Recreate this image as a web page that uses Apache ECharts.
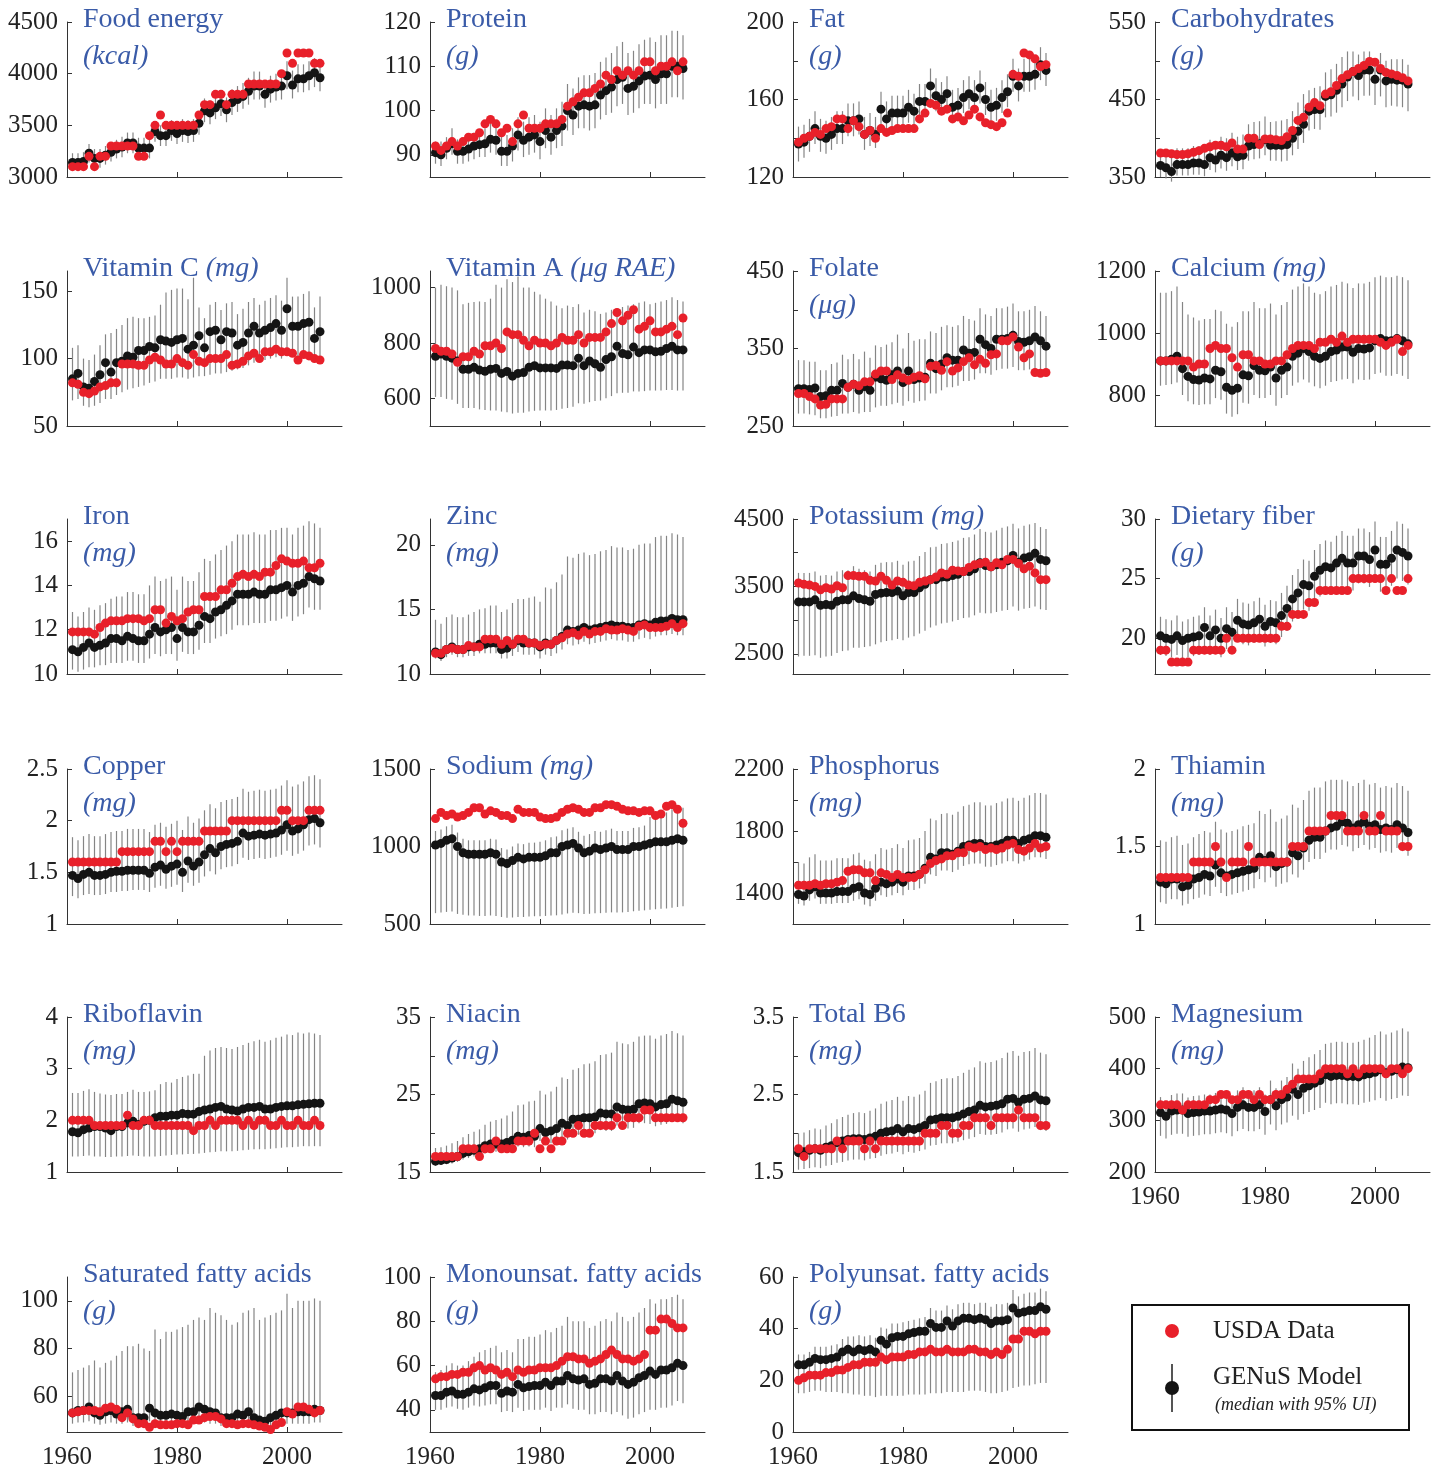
<!DOCTYPE html>
<html><head><meta charset="utf-8">
<script src="https://cdn.jsdelivr.net/npm/echarts@6/dist/echarts.min.js"></script>
<style>html,body{margin:0;padding:0;background:#fff}#c{width:1441px;height:1469px}</style>
</head><body><div id="c"></div>
<script>
const years = [1961,1962,1963,1964,1965,1966,1967,1968,1969,1970,1971,1972,1973,1974,1975,1976,1977,1978,1979,1980,1981,1982,1983,1984,1985,1986,1987,1988,1989,1990,1991,1992,1993,1994,1995,1996,1997,1998,1999,2000,2001,2002,2003,2004,2005,2006];
const yearTicks = [1960, 1980, 2000];

// Food energy (kcal)
const energyUSDA = [3100,3100,3100,3200,3100,3200,3200,3300,3300,3300,3300,3300,3200,3200,3400,3500,3600,3500,3500,3500,3500,3500,3500,3600,3700,3700,3800,3800,3700,3800,3800,3800,3900,3900,3900,3900,3900,3900,4000,4200,4100,4200,4200,4200,4100,4100];
const energyModel = [3140,3140,3150,3230,3180,3180,3210,3240,3270,3290,3330,3330,3280,3280,3280,3440,3400,3400,3450,3420,3450,3440,3450,3520,3640,3620,3670,3710,3650,3720,3750,3780,3830,3880,3880,3800,3850,3870,3880,3980,3890,3950,3950,3980,4010,3960];
const energyLo = [3060,3060,3070,3140,3090,3090,3120,3150,3180,3190,3230,3230,3180,3180,3180,3340,3300,3300,3350,3320,3340,3330,3340,3410,3530,3510,3560,3590,3530,3600,3630,3660,3700,3750,3750,3670,3720,3740,3750,3850,3760,3820,3820,3840,3870,3830];
const energyHi = [3230,3230,3240,3320,3270,3270,3300,3330,3360,3390,3430,3430,3380,3380,3380,3540,3500,3500,3550,3520,3560,3550,3560,3630,3760,3740,3790,3830,3770,3850,3880,3910,3960,4020,4020,3930,3980,4000,4010,4120,4030,4090,4090,4120,4150,4100];

// Protein (g)
const proteinUSDA = [92,91,92,93,92,93,94,94,95,97,98,97,95,96,93,97,99,96,96,96,97,97,97,98,101,102,103,104,104,105,106,108,107,109,108,109,108,109,111,111,109,110,110,111,109,111];
const proteinModel = [90.5,90,91.5,92.5,90.8,90.8,91.3,92,92.3,92.5,93.5,93.3,90.8,90.8,92,94.5,93.3,94,94.5,93,95.5,94,95.5,96.5,100,99,101,101.3,101,101.3,103.5,104.5,105.3,107,107.5,105,105.5,106.7,107.8,108,107,108.3,108.3,110,110,109.5];
const proteinLo = [88,87.5,89,90,88,88,88.5,89,89.5,89.5,90.5,90,87.5,87.5,88.5,91,89.5,90,90.5,89,91.5,90,91.5,92,95.5,94.5,96,96,95.5,96,98,99,99.5,101,101.5,99,99.5,100.5,101.5,101.5,100.5,101.5,101.5,103,103,102.5];
const proteinHi = [93,93,94,96,93.5,93.5,94.5,95,95.5,96,97,97,94.5,94.5,96,98.5,97.5,98.5,99,97.5,100.5,99,100.5,102,106,105,107.5,108,108,108.5,111,112,113,114.5,115.5,113,113.5,115,116,116.5,115.5,117,117,118,118,117];

// Fat (g)
const fatUSDA = [138,140,141,143,142,145,146,150,150,145,149,146,142,144,140,145,143,144,145,145,145,145,150,153,158,157,154,155,150,151,149,152,155,151,148,147,146,148,153,173,172,184,183,181,177,178];
const fatModel = [137,138,141,145,141,140,142,145,145,149,149,150,142,144,142,155,150,153,153,153,156,154,159,159,167,162,160,163,156,157,161,163,161,166,160,156,157,161,164,172,167,172,172,173,178,175];
const fatLo = [128,130,133,137,133,132,134,137,137,141,141,142,134,136,135,147,142,145,145,145,148,146,151,151,159,154,152,155,148,149,153,155,153,158,152,148,149,153,156,164,159,164,164,165,170,167];
const fatHi = [146,147,150,154,150,149,151,154,154,158,158,159,151,153,151,164,159,162,162,162,165,163,168,168,176,171,169,172,165,166,170,172,170,175,169,165,166,170,173,181,176,181,181,182,187,184];

// Carbohydrates (g)
const carbUSDA = [381,381,380,379,379,380,382,384,387,389,391,391,389,394,386,386,400,400,392,399,399,398,397,402,410,423,427,440,446,442,457,460,468,477,482,486,490,494,499,498,490,485,483,481,478,474];
const carbModel = [365,362,357,366,366,366,368,368,366,375,372,378,375,381,376,378,390,392,393,398,391,391,391,392,400,409,418,435,437,437,454,456,462,470,479,486,481,488,488,476,488,474,476,475,475,470];
const carbLo = [350,348,344,352,352,352,353,353,351,359,356,361,358,364,359,360,371,373,374,378,371,371,370,371,378,386,394,410,412,411,427,428,433,440,448,454,449,455,455,443,454,440,442,441,440,435];
const carbHi = [385,382,377,387,387,387,390,390,388,398,396,402,400,407,402,405,418,421,422,428,421,422,423,425,435,446,457,462,465,467,485,489,496,505,512,512,508,512,512,500,510,500,502,502,502,495];

// Vitamin C (mg)
const vitcUSDA = [82,81,75,74,76,79,80,82,82,96,96,96,95,95,99,101,99,96,96,100,97,95,103,98,97,100,100,100,103,95,96,98,102,104,100,105,105,107,105,105,104,99,103,102,100,99];
const vitcModel = [85,89,79,78,83,88,97,90,97,98,102,101,106,106,109,108,114,113,112,114,115,107,110,117,108,120,121,114,120,119,110,112,119,124,119,121,123,126,121,137,124,124,126,127,115,120];
const vitcLo = [69,70,65,64,65,67,70,70,73,75,77,78,79,80,82,83,85,85,85,86,86,85,86,87,87,88,89,89,90,91,92,93,95,97,98,99,100,101,100,104,102,102,103,104,97,100];
const vitcHi = [108,110,100,99,103,110,118,119,122,125,130,131,130,130,131,132,140,149,151,152,152,144,160,138,130,140,142,136,141,142,133,137,142,145,140,143,145,147,143,160,146,146,148,150,138,146];

// Vitamin A (ug RAE)
const vitaUSDA = [780,770,770,760,730,750,750,770,760,790,790,800,780,840,830,830,810,790,810,800,800,790,800,820,810,810,830,800,820,820,820,840,870,910,880,900,920,850,860,880,840,840,850,860,830,890];
const vitaModel = [752,760,752,745,735,705,705,712,702,698,705,708,690,697,680,690,693,712,718,710,710,710,708,720,720,718,745,718,735,725,712,740,750,788,762,757,785,765,775,775,768,770,780,788,775,775];
const vitaLo = [605,605,598,595,580,565,565,565,560,558,556,556,552,550,545,548,548,552,555,556,556,556,558,562,565,570,582,580,586,590,592,600,608,618,620,620,625,625,626,628,628,628,630,630,628,628];
const vitaHi = [1000,1010,1005,1000,990,940,945,948,950,948,960,1010,1000,1030,1020,1040,1000,1000,985,975,960,950,935,925,935,930,940,910,920,915,905,910,920,925,930,935,940,945,950,940,945,950,955,965,955,950];

// Folate (ug)
const folateUSDA = [292,292,288,285,277,278,285,285,285,300,304,302,307,307,317,321,321,310,316,312,309,313,315,311,327,328,322,333,321,325,333,338,329,336,331,342,343,360,360,365,352,338,343,319,318,319];
const folateModel = [298,298,297,299,288,289,296,296,305,300,304,296,301,296,313,311,309,316,321,306,321,310,312,313,331,324,330,338,335,335,348,344,345,362,355,350,362,362,363,367,359,358,360,365,360,353];
const folateLo = [266,266,265,264,260,260,262,263,266,266,268,266,268,268,274,276,276,278,280,276,282,280,282,283,292,292,296,300,300,302,308,308,310,318,318,316,322,324,324,326,322,322,323,324,322,320];
const folateHi = [335,335,333,333,322,322,330,332,342,336,343,336,346,338,354,352,355,358,368,350,370,360,362,362,372,370,378,380,378,380,392,388,386,402,394,392,402,402,404,408,398,398,400,405,398,392];

// Calcium (mg)
const calciumUSDA = [910,910,910,910,910,910,890,900,900,950,960,950,950,920,890,930,930,910,910,900,900,910,910,930,950,960,960,960,950,970,970,980,970,990,970,980,980,980,980,980,970,960,970,980,940,960];
const calciumModel = [910,910,915,925,885,860,850,848,855,852,880,875,825,815,822,865,862,895,880,878,890,855,880,890,925,935,950,940,925,918,925,940,945,955,955,938,950,948,952,975,982,975,975,982,975,965];
const calciumLo = [830,832,835,840,800,780,770,768,770,770,790,785,740,730,738,775,772,800,790,790,800,765,790,800,830,840,850,840,828,822,830,842,845,850,852,838,850,848,850,868,872,862,862,868,862,852];
const calciumHi = [1130,1130,1135,1150,1100,1060,1050,1040,1045,1045,1075,1070,1030,1020,1035,1070,1070,1100,1080,1080,1095,1060,1090,1100,1140,1150,1160,1150,1130,1125,1135,1150,1155,1165,1160,1145,1160,1160,1165,1180,1185,1180,1180,1185,1180,1170];

// Iron (mg)
const ironUSDA = [11.9,11.9,11.9,11.9,11.8,12.1,12.3,12.4,12.4,12.4,12.5,12.5,12.5,12.4,12.5,12.9,12.9,12.3,12.6,12.4,12.5,12.8,12.9,12.9,13.5,13.5,13.5,13.8,13.8,14.1,14.4,14.5,14.4,14.5,14.4,14.6,14.6,14.9,15.2,15.1,15.0,15.0,15.1,14.8,14.8,15.0];
const ironModel = [11.1,11.0,11.2,11.4,11.2,11.3,11.4,11.6,11.6,11.5,11.7,11.6,11.5,11.5,11.8,12.1,11.9,12.0,12.1,11.6,12.1,11.9,11.9,12.2,12.6,12.5,12.8,12.9,13.1,13.3,13.6,13.6,13.6,13.7,13.6,13.6,13.8,13.8,13.9,14.0,13.7,14.0,14.1,14.4,14.3,14.2];
const ironLo = [10.2,10.1,10.2,10.3,10.3,10.4,10.4,10.5,10.5,10.5,10.6,10.6,10.5,10.5,10.7,10.9,10.8,10.9,10.9,10.6,11.0,10.9,10.9,11.1,11.4,11.4,11.6,11.7,11.8,12.0,12.2,12.2,12.2,12.3,12.3,12.3,12.4,12.4,12.5,12.6,12.4,12.6,12.7,13.0,12.9,12.9];
const ironHi = [12.8,12.6,12.8,13.0,12.9,13.1,13.2,13.4,13.5,13.5,13.7,13.7,13.6,13.6,14.0,14.4,14.2,14.3,14.4,13.8,14.4,14.2,14.2,14.6,15.2,15.1,15.4,15.6,15.8,16.0,16.3,16.3,16.3,16.4,16.3,16.3,16.5,16.5,16.6,16.6,16.3,16.6,16.7,16.9,16.8,16.6];

// Zinc (mg)
const zincUSDA = [11.6,11.6,11.9,12.0,11.9,11.9,12.2,12.1,12.1,12.7,12.7,12.7,12.3,12.6,12.3,12.7,12.7,12.4,12.4,12.2,12.3,12.3,12.6,12.8,13.1,13.2,13.0,13.3,13.1,13.3,13.3,13.5,13.4,13.4,13.5,13.4,13.3,13.7,13.8,13.6,13.6,13.6,13.7,13.9,13.6,13.9];
const zincModel = [11.7,11.5,11.9,12.1,11.9,11.9,12.1,12.1,12.3,12.3,12.4,12.4,11.9,12.0,12.3,12.6,12.4,12.4,12.4,12.1,12.4,12.3,12.6,12.9,13.4,13.3,13.4,13.6,13.4,13.5,13.6,13.7,13.8,13.7,13.7,13.6,13.6,13.8,13.9,13.8,14.0,14.1,14.1,14.3,14.2,14.2];
const zincLo = [11.2,11.0,11.3,11.5,11.3,11.3,11.4,11.4,11.6,11.6,11.6,11.6,11.2,11.2,11.4,11.7,11.5,11.5,11.5,11.2,11.5,11.4,11.6,11.9,12.3,12.2,12.3,12.5,12.3,12.4,12.5,12.6,12.7,12.6,12.6,12.5,12.5,12.7,12.8,12.7,12.9,13.0,13.0,13.1,13.0,13.0];
const zincHi = [14.2,13.9,14.4,14.6,14.4,14.4,14.6,14.8,15.0,15.1,15.3,15.3,14.8,15.0,15.5,15.8,15.8,15.9,16.0,15.6,16.7,16.6,17.1,17.7,19.1,19.0,19.3,19.4,19.2,19.3,19.5,19.6,19.9,19.8,19.8,19.6,19.7,20.0,20.1,20.1,20.6,20.7,20.7,20.9,20.8,20.6];

// Potassium (mg)
const potassiumUSDA = [3550,3530,3520,3500,3450,3480,3460,3510,3480,3660,3660,3650,3650,3590,3580,3650,3590,3520,3580,3560,3520,3510,3560,3580,3600,3640,3700,3680,3740,3730,3720,3780,3820,3840,3860,3790,3850,3820,3900,3900,3840,3760,3800,3700,3600,3600];
const potassiumModel = [3270,3270,3270,3300,3220,3230,3220,3280,3300,3300,3360,3320,3300,3280,3380,3400,3410,3410,3430,3360,3410,3410,3480,3530,3600,3600,3640,3640,3660,3680,3720,3720,3760,3850,3810,3790,3820,3860,3880,3960,3860,3920,3940,3990,3900,3880];
const potassiumLo = [2460,2470,2470,2480,2440,2460,2470,2510,2540,2550,2590,2590,2600,2610,2640,2670,2690,2700,2720,2700,2740,2760,2800,2840,2890,2920,2950,2960,2980,3000,3030,3040,3070,3110,3100,3100,3120,3140,3150,3200,3140,3170,3180,3200,3160,3150];
const potassiumHi = [3700,3700,3700,3720,3660,3670,3660,3720,3740,3740,3800,3760,3740,3720,3820,3850,3860,3860,3880,3820,3870,3880,3950,4010,4080,4090,4130,4140,4160,4180,4220,4230,4270,4350,4310,4300,4330,4370,4390,4430,4360,4400,4420,4440,4380,4350];

// Dietary fiber (g)
const fiberUSDA = [19,19,18,18,18,18,19,19,19,19,19,19,20,19,20,20,20,20,20,20,20,20,21,21,22,22,22,23,23,24,24,24,24,24,24,25,25,25,25,25,25,24,25,24,24,25];
const fiberModel = [20.2,20.0,19.9,20.2,19.8,20.0,20.1,20.2,20.9,20.2,20.7,20.0,20.8,20.5,21.5,21.2,21.1,21.3,21.6,21.0,21.4,21.3,21.9,22.5,23.3,23.8,24.5,24.4,25.2,25.7,26.0,25.9,26.3,26.7,26.3,26.3,26.9,26.9,26.6,27.4,26.2,26.2,26.7,27.4,27.2,26.9];
const fiberLo = [18.6,18.5,18.4,18.6,18.3,18.4,18.5,18.6,19.2,18.6,19.0,18.4,19.1,18.8,19.7,19.5,19.4,19.6,19.8,19.3,19.6,19.5,20.1,20.6,21.4,21.8,22.4,22.3,23.0,23.5,23.8,23.7,24.0,24.4,24.0,24.0,24.6,24.6,24.3,25.0,23.9,23.9,24.4,25.0,24.8,24.5];
const fiberHi = [21.8,21.6,21.5,21.9,21.4,21.6,21.8,21.9,22.6,21.9,22.4,21.7,22.6,22.2,23.3,23.0,22.9,23.1,23.4,22.8,23.2,23.1,23.8,24.4,25.3,25.8,26.6,26.5,27.4,27.9,28.2,28.1,28.6,29.0,28.6,28.6,29.2,29.2,28.9,29.8,28.5,28.5,29.0,29.8,29.6,29.2];

// Copper (mg)
const copperUSDA = [1.6,1.6,1.6,1.6,1.6,1.6,1.6,1.6,1.6,1.7,1.7,1.7,1.7,1.7,1.7,1.8,1.8,1.7,1.8,1.7,1.8,1.8,1.8,1.8,1.9,1.9,1.9,1.9,1.9,2.0,2.0,2.0,2.0,2.0,2.0,2.0,2.0,2.0,2.1,2.1,2.0,2.0,2.0,2.1,2.1,2.1];
const copperModel = [1.47,1.44,1.48,1.50,1.47,1.47,1.48,1.50,1.51,1.51,1.52,1.52,1.52,1.52,1.49,1.55,1.57,1.53,1.56,1.58,1.50,1.61,1.56,1.60,1.67,1.73,1.69,1.75,1.77,1.78,1.80,1.88,1.85,1.86,1.87,1.86,1.87,1.88,1.91,1.96,1.90,1.92,1.96,2.01,2.02,1.98];
const copperLo = [1.27,1.25,1.28,1.29,1.28,1.28,1.29,1.31,1.31,1.32,1.32,1.33,1.33,1.33,1.31,1.35,1.37,1.34,1.36,1.38,1.31,1.40,1.37,1.40,1.46,1.51,1.48,1.53,1.55,1.56,1.58,1.64,1.62,1.63,1.64,1.63,1.64,1.65,1.67,1.71,1.66,1.68,1.71,1.76,1.77,1.74];
const copperHi = [1.84,1.81,1.85,1.87,1.85,1.85,1.87,1.89,1.90,1.90,1.92,1.92,1.92,1.92,1.89,1.96,1.98,1.94,1.97,2.00,1.91,2.04,1.98,2.02,2.10,2.16,2.12,2.18,2.20,2.21,2.23,2.31,2.28,2.29,2.30,2.29,2.30,2.31,2.34,2.39,2.33,2.35,2.38,2.43,2.44,2.40];

// Sodium (mg)
const sodiumUSDA = [1180,1220,1200,1210,1190,1200,1220,1250,1250,1210,1230,1220,1200,1200,1180,1240,1220,1220,1220,1190,1180,1180,1190,1220,1240,1250,1240,1220,1220,1250,1250,1270,1270,1260,1240,1230,1230,1220,1230,1230,1200,1210,1260,1270,1240,1150];
const sodiumModel = [1010,1020,1040,1050,1000,960,950,950,950,950,960,950,900,890,910,930,920,930,930,930,940,960,960,1000,1010,1020,990,960,970,990,980,990,1000,980,980,980,1000,1000,1010,1020,1030,1030,1030,1040,1050,1040];
const sodiumLo = [570,575,578,580,565,560,555,555,552,552,555,552,545,540,542,545,545,548,550,550,552,555,556,562,568,572,570,565,566,570,570,572,575,575,575,578,582,585,588,592,595,598,600,605,610,615];
const sodiumHi = [1100,1110,1130,1140,1090,1050,1040,1040,1040,1040,1050,1045,990,980,1000,1020,1015,1025,1025,1030,1040,1060,1065,1105,1115,1125,1095,1070,1080,1100,1095,1105,1115,1100,1100,1100,1120,1125,1135,1190,1200,1210,1220,1240,1250,1250];

// Phosphorus (mg)
const phosUSDA = [1450,1450,1450,1460,1450,1460,1460,1470,1480,1540,1550,1550,1530,1530,1480,1530,1520,1500,1520,1500,1500,1500,1520,1550,1590,1610,1620,1640,1640,1660,1660,1700,1690,1700,1680,1690,1680,1690,1710,1720,1680,1670,1690,1720,1690,1700];
const phosModel = [1390,1380,1420,1440,1400,1400,1400,1410,1410,1410,1430,1440,1400,1390,1430,1470,1460,1470,1490,1470,1510,1510,1520,1560,1630,1620,1660,1660,1650,1670,1700,1710,1720,1720,1700,1700,1710,1720,1740,1740,1720,1740,1750,1770,1770,1760];
const phosLo = [1330,1320,1350,1365,1330,1330,1330,1335,1335,1335,1350,1360,1325,1315,1350,1385,1375,1385,1400,1385,1420,1420,1430,1460,1520,1510,1545,1545,1535,1550,1575,1585,1590,1590,1570,1570,1580,1590,1605,1605,1590,1605,1615,1630,1630,1620];
const phosHi = [1600,1590,1630,1650,1610,1610,1610,1625,1625,1625,1650,1660,1615,1605,1650,1690,1680,1690,1715,1690,1740,1745,1755,1800,1880,1870,1910,1915,1905,1925,1960,1970,1985,1985,1965,1965,1980,1990,2010,2015,1995,2015,2030,2045,2045,2035];

// Thiamin (mg)
const thiaminUSDA = [1.3,1.3,1.3,1.3,1.3,1.3,1.4,1.4,1.4,1.4,1.5,1.4,1.3,1.4,1.4,1.4,1.5,1.4,1.4,1.4,1.4,1.4,1.4,1.4,1.5,1.5,1.5,1.6,1.6,1.6,1.6,1.7,1.7,1.7,1.6,1.6,1.6,1.7,1.6,1.6,1.7,1.6,1.6,1.6,1.5,1.5];
const thiaminModel = [1.27,1.26,1.29,1.29,1.24,1.25,1.29,1.30,1.32,1.31,1.38,1.33,1.31,1.32,1.33,1.34,1.35,1.36,1.43,1.41,1.44,1.37,1.39,1.40,1.46,1.44,1.49,1.54,1.56,1.56,1.60,1.62,1.63,1.66,1.65,1.62,1.64,1.66,1.63,1.64,1.61,1.62,1.61,1.64,1.62,1.59];
const thiaminLo = [1.14,1.13,1.16,1.16,1.12,1.13,1.16,1.17,1.19,1.18,1.24,1.20,1.18,1.19,1.20,1.21,1.22,1.23,1.29,1.27,1.30,1.24,1.26,1.27,1.32,1.30,1.35,1.40,1.42,1.42,1.46,1.48,1.48,1.51,1.50,1.47,1.49,1.51,1.48,1.49,1.46,1.47,1.46,1.49,1.47,1.44];
const thiaminHi = [1.54,1.53,1.56,1.57,1.51,1.52,1.56,1.58,1.60,1.59,1.66,1.61,1.59,1.60,1.61,1.63,1.64,1.65,1.73,1.71,1.74,1.66,1.68,1.70,1.77,1.75,1.80,1.86,1.88,1.88,1.92,1.93,1.93,1.93,1.92,1.89,1.91,1.93,1.90,1.91,1.88,1.89,1.88,1.91,1.89,1.86];

// Riboflavin (mg)
const riboUSDA = [2.0,2.0,2.0,2.0,1.9,1.9,1.9,1.9,1.9,1.9,2.1,1.9,1.9,2.0,2.0,1.9,1.9,1.9,1.9,1.9,1.9,1.9,1.8,1.9,1.9,2.0,1.9,2.0,2.0,2.0,2.0,1.9,2.0,1.9,2.0,2.0,1.9,1.9,2.0,1.9,1.9,2.0,1.9,1.9,2.0,1.9];
const riboModel = [1.78,1.76,1.82,1.85,1.88,1.88,1.85,1.80,1.88,1.88,1.95,1.98,1.92,1.98,2.00,2.05,2.08,2.08,2.10,2.10,2.13,2.12,2.12,2.17,2.20,2.22,2.25,2.27,2.22,2.20,2.18,2.22,2.25,2.25,2.27,2.22,2.22,2.25,2.27,2.28,2.28,2.30,2.31,2.32,2.33,2.33];
const riboLo = [1.30,1.30,1.31,1.32,1.30,1.30,1.29,1.29,1.30,1.30,1.31,1.32,1.31,1.30,1.30,1.30,1.31,1.32,1.33,1.34,1.34,1.35,1.35,1.36,1.37,1.38,1.39,1.40,1.40,1.40,1.41,1.42,1.43,1.44,1.44,1.44,1.45,1.46,1.47,1.48,1.48,1.49,1.50,1.50,1.50,1.50];
const riboHi = [2.53,2.53,2.57,2.60,2.55,2.52,2.50,2.49,2.51,2.51,2.55,2.59,2.55,2.55,2.56,2.58,2.70,2.74,2.73,2.80,2.84,2.87,2.90,2.90,3.25,3.35,3.40,3.42,3.40,3.38,3.42,3.46,3.50,3.53,3.56,3.52,3.55,3.60,3.62,3.66,3.65,3.70,3.68,3.70,3.68,3.65];

// Niacin (mg)
const niacinUSDA = [17,17,17,17,17,18,18,18,17,18,18,19,18,18,18,19,19,19,20,18,19,18,19,19,20,20,21,20,20,21,21,21,21,22,21,22,22,22,23,23,22,22,22,22,22,22];
const niacinModel = [16.4,16.5,16.6,16.8,17.0,17.4,17.6,17.8,18.0,18.4,18.6,18.6,18.6,18.8,19.1,19.6,19.5,19.7,19.6,20.6,20.1,20.3,20.6,21.3,21.0,21.8,21.8,22.0,22.0,22.1,22.6,22.5,22.5,23.4,23.1,23.0,23.1,23.8,23.9,23.8,23.4,23.7,23.8,24.4,24.2,24.0];
const niacinLo = [15.8,15.9,16.0,16.1,16.3,16.6,16.8,17.0,17.1,17.4,17.6,17.6,17.6,17.7,17.9,18.3,18.2,18.3,18.2,19.0,18.6,18.7,18.9,19.5,19.2,19.8,19.8,20.0,20.0,20.0,20.4,20.3,20.3,21.0,20.7,20.6,20.7,21.3,21.3,21.2,20.9,21.1,21.2,21.7,21.5,21.3];
const niacinHi = [18.1,18.2,18.4,18.7,19.0,19.5,19.9,20.2,20.5,21.1,21.5,21.7,21.9,22.3,22.8,23.6,23.7,24.1,24.2,25.5,25.0,25.4,26.0,27.2,27.0,28.2,28.4,28.9,29.0,29.3,30.1,30.2,30.4,31.8,31.6,31.5,31.8,32.5,32.6,32.6,32.2,32.6,32.8,33.2,32.9,32.6];

// Total B6 (mg)
const b6USDA = [1.8,1.7,1.8,1.8,1.8,1.8,1.8,1.9,1.8,1.9,1.9,1.9,1.8,1.9,1.8,1.9,1.9,1.9,1.9,1.9,1.9,1.9,1.9,2.0,2.0,2.0,2.1,2.1,2.0,2.0,2.1,2.1,2.2,2.2,2.2,2.1,2.2,2.2,2.2,2.2,2.3,2.2,2.2,2.2,2.1,2.1];
const b6Model = [1.75,1.76,1.78,1.80,1.78,1.82,1.84,1.88,1.90,1.92,1.93,1.93,1.92,1.94,1.96,2.00,2.02,2.03,2.06,2.02,2.06,2.05,2.07,2.10,2.17,2.18,2.20,2.20,2.20,2.22,2.25,2.28,2.30,2.36,2.34,2.35,2.36,2.38,2.44,2.45,2.40,2.44,2.45,2.48,2.43,2.42];
const b6Lo = [1.53,1.54,1.55,1.56,1.55,1.58,1.59,1.62,1.63,1.65,1.66,1.66,1.65,1.67,1.68,1.71,1.73,1.74,1.76,1.73,1.76,1.75,1.77,1.79,1.84,1.85,1.87,1.87,1.87,1.89,1.91,1.93,1.95,1.99,1.98,1.98,1.99,2.01,2.05,2.06,2.02,2.05,2.06,2.08,2.04,2.03];
const b6Hi = [2.00,2.01,2.04,2.06,2.05,2.10,2.13,2.18,2.21,2.24,2.26,2.27,2.26,2.29,2.32,2.38,2.41,2.43,2.47,2.42,2.48,2.47,2.50,2.55,2.65,2.67,2.70,2.71,2.71,2.74,2.78,2.82,2.85,2.93,2.91,2.92,2.94,2.97,3.04,3.06,3.00,3.05,3.06,3.10,3.04,3.02];

// Magnesium (mg)
const magUSDA = [330,330,330,330,320,330,330,330,330,340,340,350,350,340,340,350,350,340,350,340,340,350,350,360,370,380,380,380,380,390,400,400,400,400,390,400,390,400,400,400,400,390,400,400,390,400];
const magModel = [315,308,318,320,320,313,315,316,318,318,320,322,320,313,325,330,325,325,330,317,340,328,340,345,360,350,362,367,372,377,388,385,387,387,385,385,384,388,390,393,398,392,395,398,403,402];
const magLo = [270,265,272,274,274,268,270,271,273,273,275,277,275,269,279,283,279,279,283,272,292,281,292,296,309,301,312,316,320,324,334,331,333,333,331,331,330,334,336,339,343,338,341,343,348,347];
const magHi = [345,338,349,352,352,344,347,348,350,350,353,356,353,345,358,364,358,358,364,350,377,362,377,384,410,400,415,422,428,436,448,450,452,452,450,450,452,456,460,465,472,466,470,474,478,472];

// Saturated fatty acids (g)
const satUSDA = [53,53.5,54,54,54,53.5,55,55.5,54.5,51,53,50.5,48.5,48.5,47,48.5,48,48,48,48.5,48.5,48,50,50,51,51.5,51.5,50.5,48.5,48.5,48,48.5,48.5,48,47.5,47,46,48,49,53.5,52.5,55.5,55.5,54.5,53,54];
const satModel = [53,54,54,55.5,53,52,53.5,54,52.5,53.5,54.5,51,51,51,55,53,52,52,52.5,52,51.5,53.5,53.5,55.5,54.5,53.5,53,51,51,51,52.5,52,53.5,51,50,49.5,51,52,53,53,53,53.5,53.5,53.5,54.5,54];
const satLo = [48.5,49,49,49.5,48.5,48,48.5,49,48.5,48.5,49,47.5,47.5,47.5,49.5,48.5,48,48,48,48,47.5,48.5,48.5,49.5,49,48.5,48.5,47.5,47.5,47.5,48,48,48.5,47.5,47,47,47.5,48,48.5,48.5,48.5,48.5,48.5,48.5,49,49];
const satHi = [70,71,72,73,75,72,74,75,77,79,81,81,82,80,79,88,84,87,87,88,89,90,92,93,92,97,95,94,92,90,91,95,96,97,92,93,94,95,96,103,97,100,100,100,101,100];

// Monounsaturated fatty acids (g)
const monoUSDA = [54,55,55,56,56,57,57,59,60,58,59,58,56,57,55,58,57,58,58,59,59,59,60,62,64,64,63,63,61,62,63,65,67,65,63,63,62,63,65,76,76,81,81,79,77,77];
const monoModel = [46.5,46.5,48,48.5,47,47,48,49.5,49,50,51,51,47.5,48.5,48,51.5,50,50.5,51,51,52.5,51,53,53,55.5,54,53.5,54,51.5,52,54,54,53,55.5,53,51.5,52.5,54.5,55.5,57.5,56,58,58,59,61,60];
const monoLo = [40,40,41,41.5,40.5,40,41,42,41.5,42,42.5,42.5,39,39.5,39,41,39.5,40,40,40,41,39.5,41,41,42.5,40.5,40,40,38,38,39,39,38,39,37.5,36,36.5,38,39,40,40,41,41,42,44,43];
const monoHi = [57,58,60,61,60,60,62,64,66,67,68,69,66,67,66,72,72,73,73,74,76,75,77,78,82,80,80,80,77,78,80,81,80,84,82,80,82,84,86,90,88,90,90,91,92,90];

// Polyunsaturated fatty acids (g)
const polyUSDA = [20,21,22,22,22,23,23,24,24,25,26,26,27,27,27,29,28,29,29,29,30,30,31,31,32,31,31,32,31,31,31,32,32,31,31,30,31,30,32,36,36,39,39,38,39,39];
const polyModel = [26,26,27,28.5,28,28,28.5,29,31,32,31,32,31.5,32,31,35.5,34,36.5,37,37,38,38.5,39,39,42,40.5,40.5,43,41,43,44,44,43.5,44,43.5,42,43,43,43.5,48,46,46.5,47,47,48.5,47.5];
const polyLo = [15,15,15.5,16,16,15.5,15.5,15.5,15,15,14.5,14.5,14,14,13.5,14,14,14,14,14,14.5,14.5,14.5,14.5,15,15,15,15.5,15.5,15.5,15.5,16,16,16,15.5,15,15,15.5,16,17,17.5,18,18,18.5,19,19];
const polyHi = [30,30,31,33,33,33,33.5,34,36,37,37,37.5,37,37.5,36.5,40.5,40,42,42,42.5,43,43.5,44,44.5,48,47,47,49,47.5,49.5,50,50,49.5,50,50,48.5,49.5,49.5,50,55,52.5,53.5,54,54,55.5,54.5];

// Panel table (titles, units, axis ranges and tick values)
const panels = [
  {name:'Food energy', unit:'(kcal)', inline:false, usda:energyUSDA, med:energyModel, lo:energyLo, hi:energyHi, min:3000, max:4500, labels:[3000,3500,4000,4500], ticks:[3000,3500,4000,4500]},
  {name:'Protein', unit:'(g)', inline:false, usda:proteinUSDA, med:proteinModel, lo:proteinLo, hi:proteinHi, min:85, max:120, labels:[90,100,110,120], ticks:[90,100,110,120]},
  {name:'Fat', unit:'(g)', inline:false, usda:fatUSDA, med:fatModel, lo:fatLo, hi:fatHi, min:120, max:200, labels:[120,160,200], ticks:[120,140,160,180,200]},
  {name:'Carbohydrates', unit:'(g)', inline:false, usda:carbUSDA, med:carbModel, lo:carbLo, hi:carbHi, min:350, max:550, labels:[350,450,550], ticks:[350,400,450,500,550]},
  {name:'Vitamin C', unit:'(mg)', inline:true, usda:vitcUSDA, med:vitcModel, lo:vitcLo, hi:vitcHi, min:50, max:165, labels:[50,100,150], ticks:[50,100,150]},
  {name:'Vitamin A', unit:'(\u03bcg RAE)', inline:true, usda:vitaUSDA, med:vitaModel, lo:vitaLo, hi:vitaHi, min:500, max:1060, labels:[600,800,1000], ticks:[600,800,1000]},
  {name:'Folate', unit:'(\u03bcg)', inline:false, usda:folateUSDA, med:folateModel, lo:folateLo, hi:folateHi, min:250, max:450, labels:[250,350,450], ticks:[250,300,350,400,450]},
  {name:'Calcium', unit:'(mg)', inline:true, usda:calciumUSDA, med:calciumModel, lo:calciumLo, hi:calciumHi, min:700, max:1200, labels:[800,1000,1200], ticks:[800,1000,1200]},
  {name:'Iron', unit:'(mg)', inline:false, usda:ironUSDA, med:ironModel, lo:ironLo, hi:ironHi, min:10, max:17, labels:[10,12,14,16], ticks:[10,12,14,16]},
  {name:'Zinc', unit:'(mg)', inline:false, usda:zincUSDA, med:zincModel, lo:zincLo, hi:zincHi, min:10, max:22, labels:[10,15,20], ticks:[10,15,20]},
  {name:'Potassium', unit:'(mg)', inline:true, usda:potassiumUSDA, med:potassiumModel, lo:potassiumLo, hi:potassiumHi, min:2200, max:4500, labels:[2500,3500,4500], ticks:[2500,3000,3500,4000,4500]},
  {name:'Dietary fiber', unit:'(g)', inline:false, usda:fiberUSDA, med:fiberModel, lo:fiberLo, hi:fiberHi, min:17, max:30, labels:[20,25,30], ticks:[20,25,30]},
  {name:'Copper', unit:'(mg)', inline:false, usda:copperUSDA, med:copperModel, lo:copperLo, hi:copperHi, min:1, max:2.5, labels:[1,1.5,2,2.5], ticks:[1,1.5,2,2.5]},
  {name:'Sodium', unit:'(mg)', inline:true, usda:sodiumUSDA, med:sodiumModel, lo:sodiumLo, hi:sodiumHi, min:500, max:1500, labels:[500,1000,1500], ticks:[500,1000,1500]},
  {name:'Phosphorus', unit:'(mg)', inline:false, usda:phosUSDA, med:phosModel, lo:phosLo, hi:phosHi, min:1200, max:2200, labels:[1400,1800,2200], ticks:[1400,1600,1800,2000,2200]},
  {name:'Thiamin', unit:'(mg)', inline:false, usda:thiaminUSDA, med:thiaminModel, lo:thiaminLo, hi:thiaminHi, min:1, max:2, labels:[1,1.5,2], ticks:[1,1.5,2]},
  {name:'Riboflavin', unit:'(mg)', inline:false, usda:riboUSDA, med:riboModel, lo:riboLo, hi:riboHi, min:1, max:4, labels:[1,2,3,4], ticks:[1,2,3,4]},
  {name:'Niacin', unit:'(mg)', inline:false, usda:niacinUSDA, med:niacinModel, lo:niacinLo, hi:niacinHi, min:15, max:35, labels:[15,25,35], ticks:[15,20,25,30,35]},
  {name:'Total B6', unit:'(mg)', inline:false, usda:b6USDA, med:b6Model, lo:b6Lo, hi:b6Hi, min:1.5, max:3.5, labels:[1.5,2.5,3.5], ticks:[1.5,2,2.5,3,3.5]},
  {name:'Magnesium', unit:'(mg)', inline:false, usda:magUSDA, med:magModel, lo:magLo, hi:magHi, min:200, max:500, labels:[200,300,400,500], ticks:[200,300,400,500], xLabels:true},
  {name:'Saturated fatty acids', unit:'(g)', inline:false, usda:satUSDA, med:satModel, lo:satLo, hi:satHi, min:45, max:110, labels:[60,80,100], ticks:[60,80,100], xLabels:true},
  {name:'Monounsat. fatty acids', unit:'(g)', inline:false, usda:monoUSDA, med:monoModel, lo:monoLo, hi:monoHi, min:30, max:100, labels:[40,60,80,100], ticks:[40,60,80,100], xLabels:true},
  {name:'Polyunsat. fatty acids', unit:'(g)', inline:false, usda:polyUSDA, med:polyModel, lo:polyLo, hi:polyHi, min:0, max:60, labels:[0,20,40,60], ticks:[0,20,40,60], xLabels:true}
];

const FONT = '"Liberation Serif", "Times New Roman", serif';
const BLUE = '#3a5ba8';
const RED = '#e8202a';
const BLACK = '#141414';
const BAR = '#858585';
const AXIS = '#333333';
const colX = [67, 430, 793, 1155];
const rowTop = [22, 271, 519, 769, 1017, 1277];
const PW = 275, PH = 155;
const plain = v => String(v);

const grid = [], xAxis = [], yAxis = [], series = [], title = [];
panels.forEach((p, i) => {
  const r = Math.floor(i / 4), c = i % 4;
  const L = colX[c], T = rowTop[r];
  grid.push({left: L, top: T, width: PW, height: PH, outerBoundsMode: 'none'});
  xAxis.push({
    gridIndex: i, type: 'value', min: 1960, max: 2010,
    axisLine: {show: true, onZero: false, lineStyle: {color: AXIS, width: 1}},
    axisTick: {show: true, inside: true, length: 5, customValues: yearTicks, lineStyle: {color: AXIS}},
    axisLabel: {show: !!p.xLabels, customValues: yearTicks, formatter: plain, fontFamily: FONT, fontSize: 25, color: '#222', margin: 13},
    splitLine: {show: false}
  });
  yAxis.push({
    gridIndex: i, type: 'value', min: p.min, max: p.max,
    axisLine: {show: true, onZero: false, lineStyle: {color: AXIS, width: 1}},
    axisTick: {show: true, inside: true, length: 5, customValues: p.ticks, lineStyle: {color: AXIS}},
    axisLabel: {customValues: p.labels, formatter: plain, fontFamily: FONT, fontSize: 25, color: '#222', margin: 9},
    splitLine: {show: false}
  });
  series.push({
    type: 'custom', xAxisIndex: i, yAxisIndex: i, silent: true, z: 1,
    data: years.map((y, k) => [y, p.lo[k], p.hi[k]]),
    encode: {x: 0, y: [1, 2]},
    renderItem: (params, api) => {
      const a = api.coord([api.value(0), api.value(1)]);
      const b = api.coord([api.value(0), api.value(2)]);
      return {type: 'line', shape: {x1: a[0], y1: a[1], x2: b[0], y2: b[1]}, style: {stroke: BAR, lineWidth: 1.2}};
    }
  });
  series.push({
    type: 'scatter', xAxisIndex: i, yAxisIndex: i, silent: true, z: 2,
    symbolSize: 9, itemStyle: {color: BLACK, opacity: 1},
    data: years.map((y, k) => [y, p.med[k]])
  });
  series.push({
    type: 'scatter', xAxisIndex: i, yAxisIndex: i, silent: true, z: 3,
    symbolSize: 9, itemStyle: {color: RED, opacity: 1},
    data: years.map((y, k) => [y, p.usda[k]])
  });
  const rich = {
    n: {fontFamily: FONT, fontSize: 28, color: BLUE},
    u: {fontFamily: FONT, fontSize: 28, color: BLUE, fontStyle: 'italic'}
  };
  if (p.inline) {
    title.push({left: L + 16, top: T - 16, padding: 0, text: '{n|' + p.name + ' }{u|' + p.unit + '}',
      textStyle: {fontFamily: FONT, fontSize: 28, fontWeight: 'normal', color: BLUE, rich: rich}});
  } else {
    title.push({left: L + 16, top: T - 16, padding: 0, text: '{n|' + p.name + '}',
      textStyle: {fontFamily: FONT, fontSize: 28, fontWeight: 'normal', color: BLUE, rich: rich}});
    title.push({left: L + 16, top: T + 21, padding: 0, text: '{u|' + p.unit + '}',
      textStyle: {fontFamily: FONT, fontSize: 28, fontWeight: 'normal', color: BLUE, rich: rich}});
  }
});

const graphic = [
  {type: 'rect', shape: {x: 1132, y: 1305, width: 277, height: 125}, style: {fill: '#fff', stroke: '#111', lineWidth: 2}},
  {type: 'circle', shape: {cx: 1172, cy: 1331, r: 7}, style: {fill: RED}},
  {type: 'line', shape: {x1: 1172, y1: 1364, x2: 1172, y2: 1412}, style: {stroke: '#555', lineWidth: 2}},
  {type: 'circle', shape: {cx: 1172, cy: 1388, r: 7}, style: {fill: BLACK}},
  {type: 'text', x: 1213, y: 1331, style: {text: 'USDA Data', fontFamily: FONT, fontSize: 25, fill: '#222', verticalAlign: 'middle'}},
  {type: 'text', x: 1213, y: 1377, style: {text: 'GENuS Model', fontFamily: FONT, fontSize: 25, fill: '#222', verticalAlign: 'middle'}},
  {type: 'text', x: 1215, y: 1405, style: {text: '(median with 95% UI)', fontFamily: FONT, fontSize: 18, fontStyle: 'italic', fill: '#222', verticalAlign: 'middle'}}
];

const chart = echarts.init(document.getElementById('c'), null, {renderer: 'canvas'});
chart.setOption({
  backgroundColor: '#ffffff',
  animation: false,
  title: title,
  grid: grid,
  xAxis: xAxis,
  yAxis: yAxis,
  series: series,
  graphic: graphic
});
</script></body></html>
